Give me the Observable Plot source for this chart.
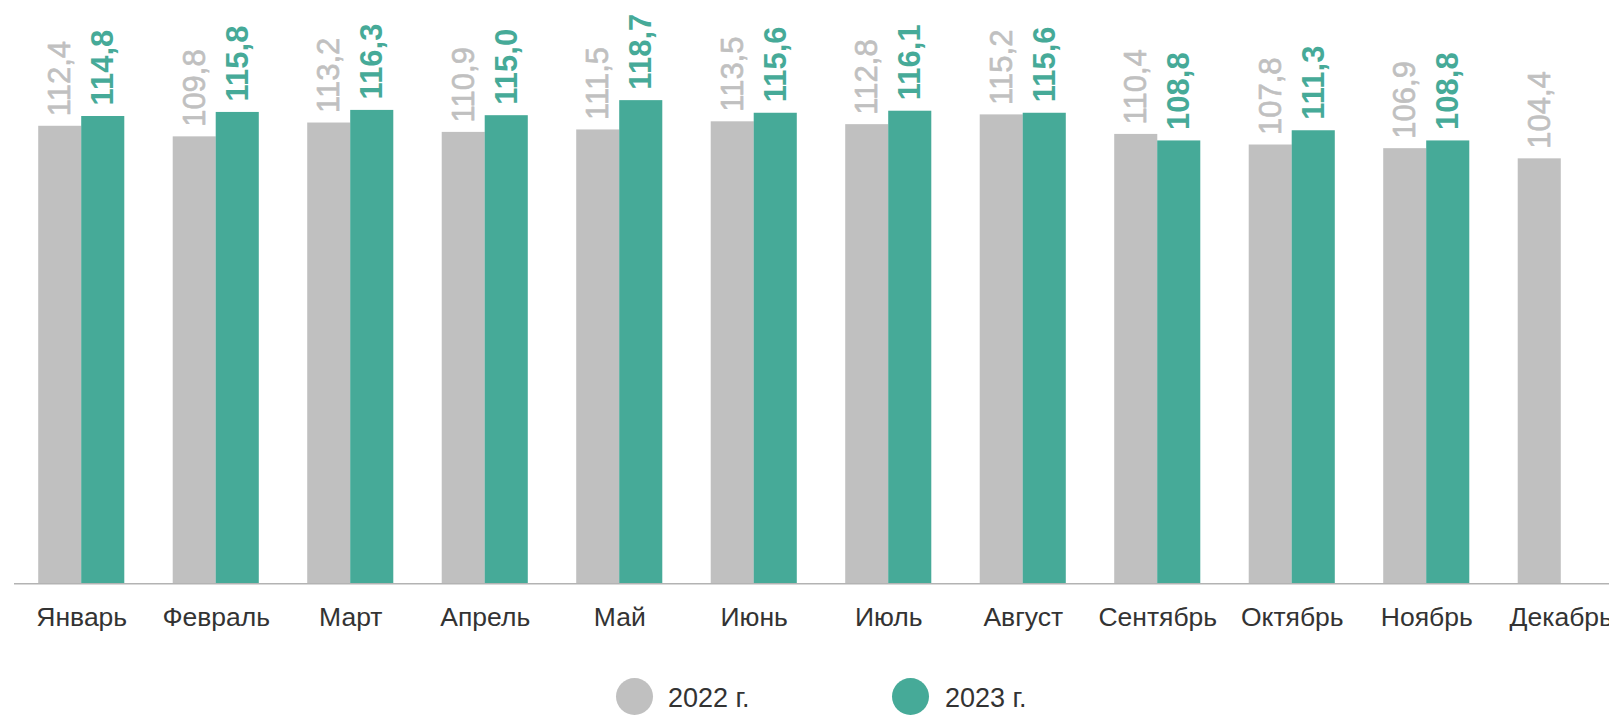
<!DOCTYPE html>
<html>
<head>
<meta charset="utf-8">
<script src="https://cdn.jsdelivr.net/npm/d3@7"></script>
<script src="https://cdn.jsdelivr.net/npm/@observablehq/plot@0.6"></script>
<style>
  html, body { margin: 0; padding: 0; background: #fff; }
  #wrap { position: relative; width: 1609px; height: 715px; overflow: hidden; font-family: "Liberation Sans", Arial, sans-serif; }
  #chart { position: absolute; left: 0; top: 0; width: 1628px; }
  #chart svg { max-width: none !important; }
  .leg-dot { position: absolute; width: 37px; height: 37px; border-radius: 50%; }
  .leg-txt { position: absolute; font-size: 27px; line-height: 23px; color: #333; white-space: nowrap; }
</style>
</head>
<body>
<div id="wrap">
  <div id="chart"></div>
  <div class="leg-dot" style="left:616px; top:678px; background:#c0c0c0"></div>
  <div class="leg-txt" style="left:668px; top:687px;">2022 г.</div>
  <div class="leg-dot" style="left:892px; top:678px; background:#46aa98"></div>
  <div class="leg-txt" style="left:945px; top:687px;">2023 г.</div>
</div>
<script>
const months = ["Январь", "Февраль", "Март", "Апрель", "Май", "Июнь", "Июль", "Август", "Сентябрь", "Октябрь", "Ноябрь", "Декабрь"];
const values2022 = [112.4, 109.8, 113.2, 110.9, 111.5, 113.5, 112.8, 115.2, 110.4, 107.8, 106.9, 104.4];
const values2023 = [114.8, 115.8, 116.3, 115.0, 118.7, 115.6, 116.1, 115.6, 108.8, 111.3, 108.8];
const seriesNames = ["2022 г.", "2023 г."];
const seriesColors = ["#c0c0c0", "#46aa98"];

const d22 = values2022.map((v, i) => ({month: months[i], value: v, series: seriesNames[0]}));
const d23 = values2023.map((v, i) => ({month: months[i], value: v, series: seriesNames[1]}));
const fmt = v => v.toFixed(1).replace(".", ",");

const W = 1628, H = 640, baseY = 583.3;
const half = 43; // half of the grouped band width

const plot = Plot.plot({
  width: W,
  height: H,
  marginLeft: 14,
  marginRight: 0,
  marginTop: 0,
  marginBottom: H - baseY,
  style: {fontFamily: "'Liberation Sans', Arial, sans-serif", background: "transparent", overflow: "visible"},
  x: {domain: months, paddingInner: 0.36, paddingOuter: 0.18, round: false, axis: null},
  y: {domain: [0, 143.3], axis: null},
  color: {domain: seriesNames, range: seriesColors},
  marks: [
    Plot.barY(d22, {x: "month", y: "value", fill: "series", insetRight: half}),
    Plot.barY(d23, {x: "month", y: "value", fill: "series", insetLeft: half}),
    Plot.ruleY([0], {stroke: "#b3b3b3", strokeWidth: 1.5}),
    Plot.text(d22, {x: "month", y: "value", text: d => fmt(d.value), rotate: -90, textAnchor: "start",
      dx: -half / 2, dy: -10, fill: seriesColors[0], fontSize: 31, stroke: seriesColors[0], strokeWidth: 0.6}),
    Plot.text(d23, {x: "month", y: "value", text: d => fmt(d.value), rotate: -90, textAnchor: "start",
      dx: half / 2, dy: -11, fill: seriesColors[1], fontSize: 31, fontWeight: "bold"}),
    Plot.text(months, {x: d => d, text: d => d, frameAnchor: "bottom", lineAnchor: "top", dy: 23,
      fill: "#333", fontSize: 26.5})
  ]
});
plot.style.maxWidth = "none";
document.getElementById("chart").appendChild(plot);
</script>
</body>
</html>
